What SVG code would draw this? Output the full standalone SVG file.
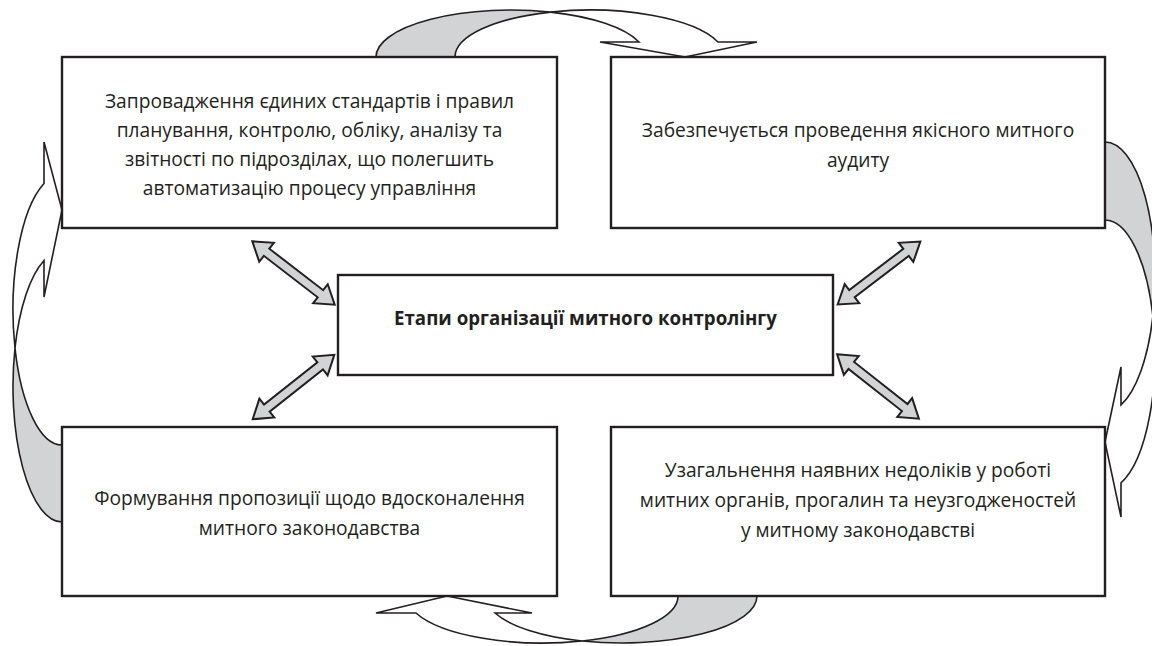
<svg xmlns="http://www.w3.org/2000/svg" width="1152" height="646" viewBox="0 0 1152 646">
<style>
.box{fill:#fff;stroke:#231f20;stroke-width:2.4}
.txt{font-family:"Open Sans","Noto Sans","Liberation Sans",sans-serif;font-size:19.2px;fill:#231f20;text-anchor:middle}
.bold{font-weight:bold;font-size:18.7px}
.cg{fill:#d1d3d4;stroke:#231f20;stroke-width:1.6;stroke-linejoin:round}
.cw{fill:#fff;stroke:#231f20;stroke-width:1.6;stroke-linejoin:miter}
.da{fill:#d1d3d4;stroke:#231f20;stroke-width:2;stroke-linejoin:miter}
</style>
<defs>
<path id="dbl" d="M-52,0 L-34,-12 L-34,-4.5 L34,-4.5 L34,-12 L52,0 L34,12 L34,4.5 L-34,4.5 L-34,12 Z"/>
</defs>
<rect width="1152" height="646" fill="#fff"/>
<g id="connectors">
<path class="cg" d="M376,57 A135,47 0 0 1 550.5,12.1 A135,47 0 0 0 455,57 Z"/>
<path class="cw" d="M550.5,12.1 A135,47 0 0 1 639,42 L600,42 L685,57 L757,42 L718,42 A135,47 0 0 0 550.5,12.1 Z"/>
<path class="cg" d="M1105,142 A50,135 0 0 1 1152.9,316 A50,135 0 0 0 1105,220 Z"/>
<path class="cw" d="M1152.9,316 A50,135 0 0 1 1121,404.9 L1121,367 L1105,442 L1121,517 L1121,482.9 A50,135 0 0 0 1152.9,316 Z"/>
<path class="cg" d="M757,596 A135.5,47 0 0 1 582,641 A135.5,47 0 0 0 678,596 Z"/>
<path class="cw" d="M582,641 A135.5,47 0 0 1 495,613 L532,613 L447,596 L376,613 L416,613 A135.5,47 0 0 0 582,641 Z"/>
<path class="cg" d="M62,522 A49,135.5 0 0 1 15,348 A49,135.5 0 0 0 62,445 Z"/>
<path class="cw" d="M15,348 A49,135.5 0 0 1 44,260.5 L44,297 L62,210 L44,142 L44,183.5 A49,135.5 0 0 0 15,348 Z"/>
<use href="#dbl" class="da" transform="translate(293.5,273) rotate(37.6)"/>
<use href="#dbl" class="da" transform="translate(293.5,387) rotate(-38.3)"/>
<use href="#dbl" class="da" transform="translate(879,273) rotate(-37.3)"/>
<use href="#dbl" class="da" transform="translate(878,386.5) rotate(38.2)"/>
</g>
<g id="node-tl">
<rect class="box" x="62" y="57" width="495" height="171"/>
<text class="txt" x="309.5" y="108">Запровадження єдиних стандартів і правил</text>
<text class="txt" x="309.5" y="137">планування, контролю, обліку, аналізу та</text>
<text class="txt" x="309.5" y="166">звітності по підрозділах, що полегшить</text>
<text class="txt" x="309.5" y="195">автоматизацію процесу управління</text>
</g>
<g id="node-tr">
<rect class="box" x="611" y="57" width="494" height="171"/>
<text class="txt" x="858" y="137">Забезпечується проведення якісного митного</text>
<text class="txt" x="858" y="167">аудиту</text>
</g>
<g id="node-center">
<rect class="box" x="338" y="275" width="495" height="100"/>
<text class="txt bold" x="585.5" y="325">Етапи організації митного контролінгу</text>
</g>
<g id="node-bl">
<rect class="box" x="62" y="427" width="495" height="169"/>
<text class="txt" x="309.5" y="505">Формування пропозиції щодо вдосконалення</text>
<text class="txt" x="309.5" y="535">митного законодавства</text>
</g>
<g id="node-br">
<rect class="box" x="611" y="427" width="494" height="169"/>
<text class="txt" x="858" y="477">Узагальнення наявних недоліків у роботі</text>
<text class="txt" x="858" y="507">митних органів, прогалин та неузгодженостей</text>
<text class="txt" x="858" y="537">у митному законодавстві</text>
</g>
</svg>
